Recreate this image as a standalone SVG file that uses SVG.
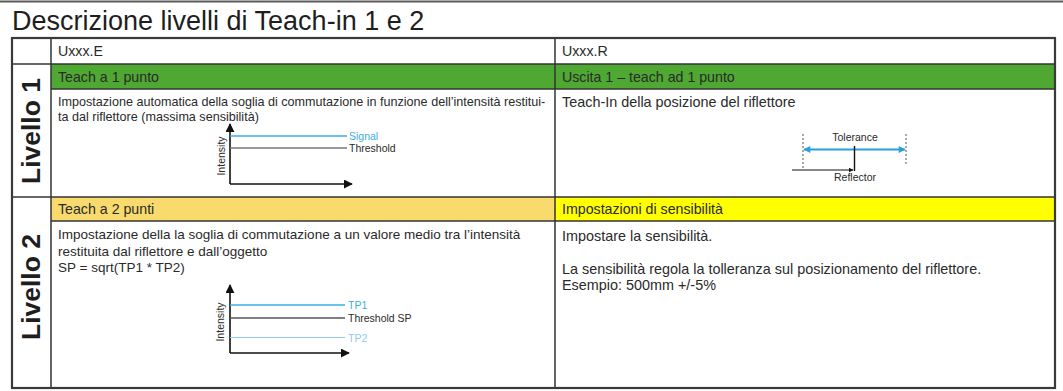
<svg xmlns="http://www.w3.org/2000/svg" width="1063" height="391" viewBox="0 0 1063 391">
<style>
  text { font-family: "Liberation Sans", Arial, sans-serif; fill: #2a2a2a; }
  .title { font-size: 27px; fill: #1e1e1e; }
  .hdr { font-size: 14.2px; }
  .d13 { font-size: 12.6px; }
  .d135 { font-size: 13.5px; }
  .d14 { font-size: 14.4px; }
  .lvl { font-size: 26.5px; font-weight: bold; fill: #1e1e1e; }
  .small { font-size: 10.5px; }
  .blue { fill: #3aaee6; }
  .lblue { fill: #8ccbee; }
  .grid { stroke: #333; stroke-width: 1.5; fill: none; }
  .axis { stroke: #111; stroke-width: 1.6; fill: none; }
</style>
<defs>
  <marker id="ah" viewBox="0 0 10 10" refX="9" refY="5" markerWidth="5" markerHeight="5" orient="auto" markerUnits="userSpaceOnUse">
    <path d="M0,0 L10,5 L0,10 z" fill="#111"/>
  </marker>
  <marker id="axh" viewBox="0 0 10 10" refX="9" refY="5" markerWidth="9" markerHeight="9" orient="auto" markerUnits="userSpaceOnUse">
    <path d="M0,0 L10,5 L0,10 z" fill="#111"/>
  </marker>
  <marker id="bh" viewBox="0 0 10 10" refX="9" refY="5" markerWidth="8" markerHeight="7" orient="auto-start-reverse" markerUnits="userSpaceOnUse">
    <path d="M0,0 L10,5 L0,10 z" fill="#2a9fdc"/>
  </marker>
</defs>

<rect x="0" y="0" width="1063" height="391" fill="#ffffff"/>
<line x1="0" y1="1.5" x2="1063" y2="1.5" stroke="#5a5a5a" stroke-width="2"/>
<text class="title" x="12" y="30">Descrizione livelli di Teach-in 1 e 2</text>

<g id="table">
  <rect x="51" y="64" width="1004" height="25" fill="#4ea832"/>
  <rect x="51" y="197" width="504" height="24" fill="#f8db6c"/>
  <rect x="555" y="197" width="500" height="24" fill="#ffff00"/>
  <line class="grid" x1="12" y1="64" x2="1055" y2="64"/>
  <line class="grid" x1="51" y1="89" x2="1055" y2="89"/>
  <line class="grid" x1="12" y1="197" x2="1055" y2="197"/>
  <line class="grid" x1="51" y1="221" x2="1055" y2="221"/>
  <line class="grid" x1="51" y1="38" x2="51" y2="388"/>
  <line class="grid" x1="555" y1="38" x2="555" y2="388"/>
  <rect x="12" y="38" width="1043" height="350" fill="none" stroke="#3a3a3a" stroke-width="2.2"/>
</g>

<g id="row-labels">
  <text class="lvl" transform="translate(40,131) rotate(-90)" text-anchor="middle">Livello 1</text>
  <text class="lvl" transform="translate(40,287) rotate(-90)" text-anchor="middle">Livello 2</text>
</g>

<g id="header">
  <text class="hdr" x="58" y="56">Uxxx.E</text>
  <text class="hdr" x="562" y="56">Uxxx.R</text>
</g>

<g id="level1-left">
  <text class="hdr" x="58" y="82">Teach a 1 punto</text>
  <text class="d13" x="58" y="106">Impostazione automatica della soglia di commutazione in funzione dell’intensità restitui-</text>
  <text class="d13" x="58" y="121">ta dal riflettore (massima sensibilità)</text>
</g>

<g id="level1-right">
  <text class="hdr" x="562" y="82">Uscita 1 – teach ad 1 punto</text>
  <text class="d14" x="562" y="107">Teach-In della posizione del riflettore</text>
</g>

<g id="level2-left">
  <text class="hdr" x="58" y="214">Teach a 2 punti</text>
  <text class="d135" x="58" y="239">Impostazione della la soglia di commutazione a un valore medio tra l’intensità</text>
  <text class="d135" x="58" y="255.5">restituita dal riflettore e dall’oggetto</text>
  <text class="d135" x="58" y="272">SP = sqrt(TP1 * TP2)</text>
</g>

<g id="level2-right">
  <text class="hdr" x="562" y="214">Impostazioni di sensibilità</text>
  <text class="d14" x="562" y="241">Impostare la sensibilità.</text>
  <text class="d14" x="562" y="274">La sensibilità regola la tolleranza sul posizionamento del riflettore.</text>
  <text class="d14" x="562" y="290">Esempio: 500mm +/-5%</text>
</g>

<g id="chart1">
  <line class="axis" x1="230" y1="184" x2="230" y2="124" marker-end="url(#axh)"/>
  <line class="axis" x1="230" y1="184" x2="352" y2="184" marker-end="url(#axh)"/>
  <line x1="230" y1="136" x2="347" y2="136" stroke="#3aaee6" stroke-width="1.4"/>
  <line x1="230" y1="148" x2="347" y2="148" stroke="#777" stroke-width="1.4"/>
  <text class="small blue" x="349" y="140">Signal</text>
  <text class="small" x="349" y="152">Threshold</text>
  <text class="small" transform="translate(225,156) rotate(-90)" text-anchor="middle">Intensity</text>
</g>

<g id="chart2">
  <line class="axis" x1="230" y1="353" x2="230" y2="285" marker-end="url(#axh)"/>
  <line class="axis" x1="230" y1="353" x2="349" y2="353" marker-end="url(#axh)"/>
  <line x1="230" y1="305" x2="345" y2="305" stroke="#3aaee6" stroke-width="1.4"/>
  <line x1="230" y1="318" x2="345" y2="318" stroke="#555" stroke-width="1.4"/>
  <line x1="230" y1="337.5" x2="345" y2="337.5" stroke="#8ccbee" stroke-width="1.2"/>
  <text class="small blue" x="348" y="309">TP1</text>
  <text class="small" x="348" y="322">Threshold SP</text>
  <text class="small lblue" x="348" y="341.5">TP2</text>
  <text class="small" transform="translate(224,322) rotate(-90)" text-anchor="middle">Intensity</text>
</g>

<g id="tolerance">
  <line x1="803" y1="134" x2="803" y2="168" stroke="#555" stroke-width="1" stroke-dasharray="2,2"/>
  <line x1="906" y1="134" x2="906" y2="166" stroke="#555" stroke-width="1" stroke-dasharray="2,2"/>
  <line x1="804" y1="149.5" x2="905" y2="149.5" stroke="#2a9fdc" stroke-width="2" marker-start="url(#bh)" marker-end="url(#bh)"/>
  <line x1="854.5" y1="146" x2="854.5" y2="171" stroke="#111" stroke-width="1.4"/>
  <line x1="792" y1="170" x2="853" y2="170" stroke="#111" stroke-width="1" marker-end="url(#ah)"/>
  <text class="small" x="855" y="141" text-anchor="middle" font-size="10">Tolerance</text>
  <text class="small" x="855" y="181" text-anchor="middle" font-size="10">Reflector</text>
</g>
</svg>
